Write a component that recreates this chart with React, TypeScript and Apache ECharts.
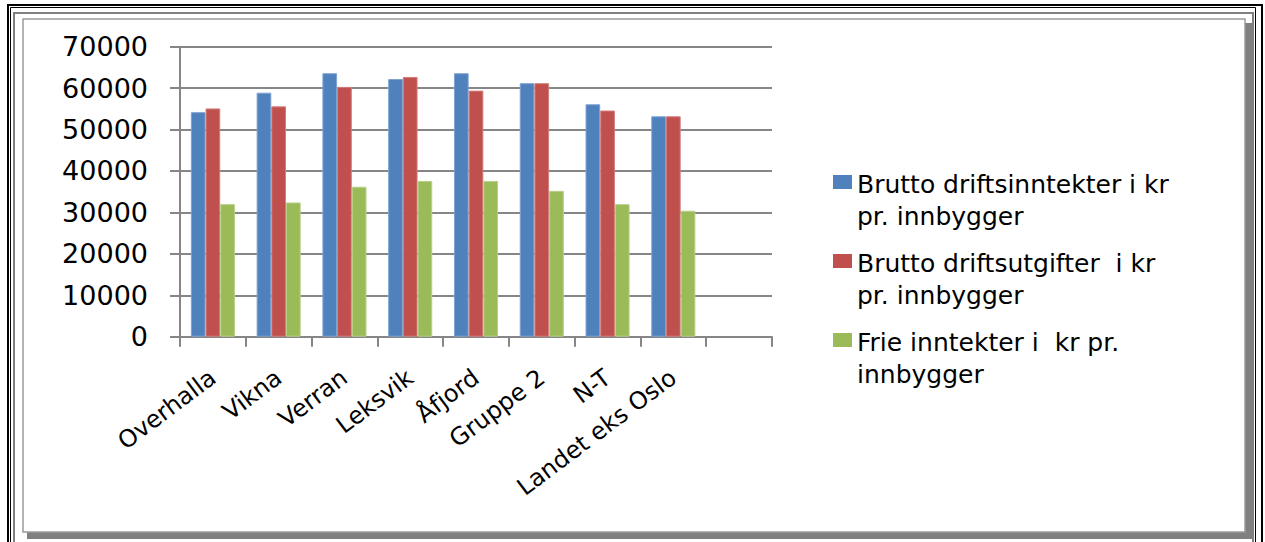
import React, { useEffect, useRef } from "react";
import * as echarts from "echarts";

const categories = ["Overhalla", "Vikna", "Verran", "Leksvik", "Åfjord", "Gruppe 2", "N-T", "Landet eks Oslo", ""];
const seriesNames = [
  "Brutto driftsinntekter i kr pr. innbygger",
  "Brutto driftsutgifter  i kr pr. innbygger",
  "Frie inntekter i kr pr. innbygger",
];
const legendLabels = [
  "Brutto driftsinntekter i kr\npr. innbygger",
  "Brutto driftsutgifter  i kr\npr. innbygger",
  "Frie inntekter i  kr pr.\ninnbygger",
];
const bruttoInntekter = [54200, 58900, 63600, 62200, 63600, 61200, 56100, 53200, null];
const bruttoUtgifter = [55100, 55600, 60300, 62700, 59400, 61200, 54600, 53200, null];
const frieInntekter = [32000, 32400, 36200, 37600, 37600, 35200, 32000, 30400, null];
const yTicks = { min: 0, max: 70000, interval: 10000 };

const FONT = "DejaVu Sans";
const AXIS = "#868686";

export default function App() {
  const ref = useRef<HTMLDivElement>(null);
  useEffect(() => {
    if (!ref.current) return;
    const chart = echarts.init(ref.current, null, { renderer: "svg" });
    const colors = ["#4F81BD", "#C0504D", "#9BBB59"];
    const borders = ["#7EA2D1", "#D27E7C", "#B7CF88"];
    const data = [bruttoInntekter, bruttoUtgifter, frieInntekter];
    chart.setOption({
      animation: false,
      backgroundColor: "#ffffff",
      graphic: [
        { type: "rect", shape: { x: 8, y: 5, width: 1254, height: 600 }, style: { fill: "none", stroke: "#000", lineWidth: 2 }, silent: true },
        { type: "rect", shape: { x: 10.5, y: 7.5, width: 1245, height: 600 }, style: { fill: "none", stroke: "#000", lineWidth: 1 }, silent: true },
        { type: "rect", shape: { x: 14, y: 13, width: 1239, height: 600 }, style: { fill: "none", stroke: "#808080", lineWidth: 2 }, silent: true },
        { type: "rect", shape: { x: 27, y: 23, width: 1226, height: 516 }, style: { fill: "#808080" }, silent: true, z: -1 },
        { type: "rect", shape: { x: 23, y: 19, width: 1222, height: 513 }, style: { fill: "#fff", stroke: "#9a9a9a", lineWidth: 1.5 }, silent: true, z: -1 },
      ],
      legend: {
        orient: "vertical",
        left: 828,
        top: 163,
        itemWidth: 19,
        itemHeight: 50,
        itemGap: 15,
        icon: "path://M0,0L19,0L19,14L0,14Z M0,50L19,50",
        itemStyle: { borderWidth: 0 },
        selectedMode: false,
        formatter: (name: string) => legendLabels[seriesNames.indexOf(name)],
        textStyle: { fontFamily: FONT, fontSize: 25, lineHeight: 32, color: "#000" },
      },
      grid: { left: 180, right: 493, top: 46.7, bottom: 205.3, containLabel: false },
      xAxis: {
        type: "category",
        data: categories,
        axisLine: { lineStyle: { color: AXIS, width: 2 } },
        axisTick: { show: true, interval: 0, length: 10, lineStyle: { color: AXIS, width: 2 } },
        axisLabel: { interval: 0, rotate: 37, margin: 38, fontFamily: FONT, fontSize: 24, color: "#000" },
      },
      yAxis: {
        type: "value",
        min: yTicks.min,
        max: yTicks.max,
        interval: yTicks.interval,
        axisLine: { show: true, lineStyle: { color: AXIS, width: 2 } },
        axisTick: { show: true, length: 10, lineStyle: { color: AXIS, width: 2 } },
        splitLine: { show: true, lineStyle: { color: AXIS, width: 2 } },
        axisLabel: { margin: 32, fontFamily: FONT, fontSize: 27, color: "#000", formatter: (v: number) => String(v) },
      },
      series: seriesNames.map((n, i) => ({
        name: n,
        type: "bar",
        data: data[i],
        barGap: "0%",
        barCategoryGap: "33%",
        itemStyle: { color: colors[i], borderColor: borders[i], borderWidth: 1 },
      })),
    });
    return () => chart.dispose();
  }, []);
  return <div ref={ref} style={{ position: "absolute", left: 0, top: 0, width: 1265, height: 542 }} />;
}
